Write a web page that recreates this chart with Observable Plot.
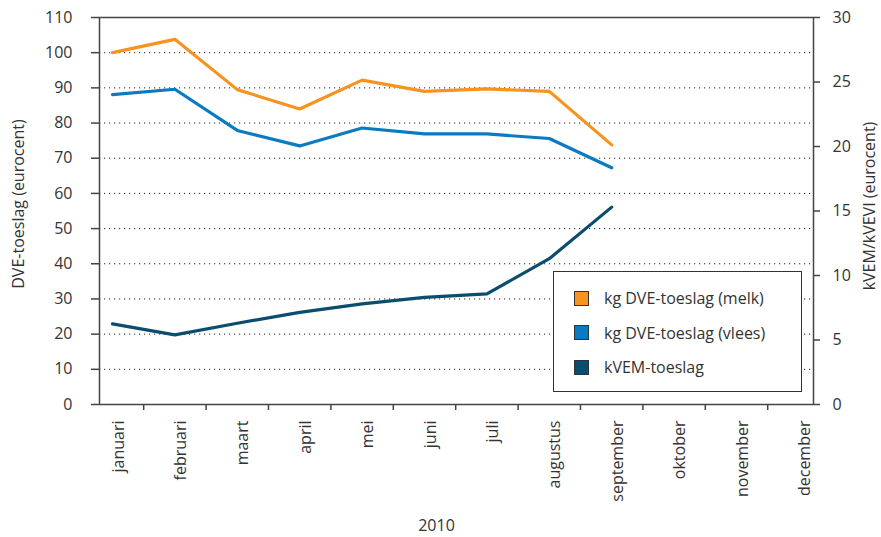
<!DOCTYPE html>
<html><head><meta charset="utf-8">
<script src="https://cdn.jsdelivr.net/npm/d3@7"></script>
<script src="https://cdn.jsdelivr.net/npm/@observablehq/plot@0.6"></script>
<style>
body{margin:0;background:#fff;font-family:"Open Sans",sans-serif;}
#chart{position:relative;width:881px;height:537px;}
#legend{position:absolute;left:553px;top:271px;width:249px;height:121px;border:1px solid #333;box-sizing:border-box;background:#fff;padding-top:9px;}
.item{height:34.5px;display:flex;align-items:center;padding-left:20px;font-size:16px;color:#333;white-space:nowrap;}
.sw{width:15px;height:15px;border:1px solid #333;box-sizing:border-box;margin-right:15px;flex:none;}
</style></head><body><div id="chart"></div>
<script>
const months = ["januari","februari","maart","april","mei","juni","juli","augustus","september","oktober","november","december"];
const seriesNames = ["kg DVE-toeslag (melk)","kg DVE-toeslag (vlees)","kVEM-toeslag"];
const seriesColors = ["#F7931E","#0A7BC2","#0B4D6E"];
// left axis (eurocent)
const melk = [100.0, 103.8, 89.5, 84.0, 92.2, 89.0, 89.7, 89.0, 73.8];
const vlees = [88.1, 89.6, 77.9, 73.5, 78.6, 76.9, 76.9, 75.6, 67.3];
// right axis (eurocent)
const kvem = [6.25, 5.4, 6.3, 7.14, 7.8, 8.3, 8.57, 11.3, 15.3];
const leftTicks = [0,10,20,30,40,50,60,70,80,90,100,110];
const gridTicks = [10,20,30,40,50,60,70,80,90,100];
const rightTicks = [0,5,10,15,20,25,30];
const leftTitle = "DVE-toeslag (eurocent)";
const rightTitle = "kVEM/kVEVI (eurocent)";
const xTitle = "2010";

const k = 110 / 30;
const rows = [];
melk.forEach((v, i) => rows.push({i, v, s: seriesNames[0]}));
vlees.forEach((v, i) => rows.push({i, v, s: seriesNames[1]}));
kvem.forEach((v, i) => rows.push({i, v: v * k, s: seriesNames[2]}));
const idx = months.map((_, i) => i);
const bounds = idx.slice(0, -1).map(i => i + 0.5);

const plot = Plot.plot({
  width: 881, height: 537,
  marginLeft: 99, marginRight: 68, marginTop: 17, marginBottom: 133,
  style: {fontFamily: "Open Sans, sans-serif", fontSize: "16px", color: "#333", background: "#fff"},
  x: {type: "linear", domain: [-0.208, 11.234]},
  y: {domain: [0, 110]},
  color: {domain: seriesNames, range: seriesColors},
  marks: [
    Plot.ruleY(gridTicks, {stroke: "#222", strokeDasharray: "1.2,3.8", strokeWidth: 1}),
    Plot.frame({stroke: "#444", strokeWidth: 1.5}),
    Plot.axisY({anchor: "left", ticks: leftTicks, tickSize: 8, tickPadding: 19, fontSize: 16, stroke: "#444", strokeWidth: 1.5, label: null}),
    Plot.axisY({anchor: "right", ticks: rightTicks.map(v => v * k), tickFormat: (d) => Math.round(d / k), tickSize: 6, tickPadding: 13, fontSize: 16, stroke: "#444", strokeWidth: 1.5, label: null}),
    Plot.axisX({ticks: idx, tickFormat: (i) => months[i], tickRotate: -90, tickSize: 0, tickPadding: 16, dx: 6, fontSize: 16, label: null}),
    Plot.axisX({ticks: bounds, tickFormat: () => "", tickSize: 6, stroke: "#444", strokeWidth: 1.5, label: null}),
    Plot.lineY(rows, {x: "i", y: "v", z: "s", stroke: "s", strokeWidth: 3.2}),
    Plot.text([leftTitle], {frameAnchor: "left", textAnchor: "middle", rotate: -90, dx: -81, dy: -7, fontSize: 16, fill: "#333"}),
    Plot.text([rightTitle], {frameAnchor: "right", textAnchor: "middle", rotate: -90, dx: 56, dy: -5, fontSize: 16, fill: "#333"}),
    Plot.text([xTitle], {frameAnchor: "bottom", dx: -20, dy: 126, fontSize: 16, fill: "#333"})
  ]
});
const chart = document.getElementById("chart");
chart.appendChild(plot);
const legend = document.createElement("div");
legend.id = "legend";
seriesNames.forEach((n, j) => {
  const row = document.createElement("div");
  row.className = "item";
  const sw = document.createElement("span");
  sw.className = "sw";
  sw.style.background = seriesColors[j];
  row.appendChild(sw);
  row.appendChild(document.createTextNode(n));
  legend.appendChild(row);
});
chart.appendChild(legend);
</script></body></html>
